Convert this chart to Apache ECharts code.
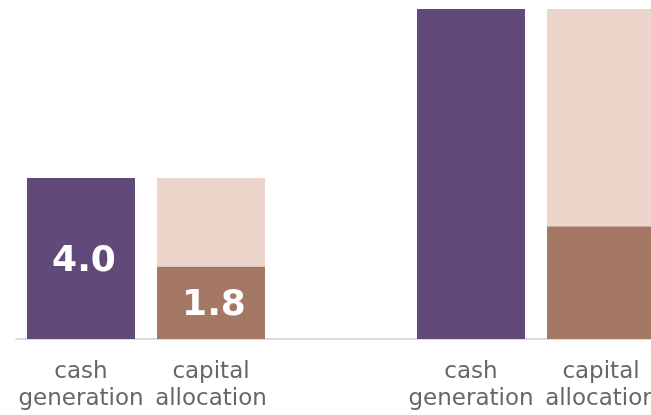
<!DOCTYPE html>
<html><head><meta charset="utf-8">
<script src="https://cdn.jsdelivr.net/npm/echarts@6/dist/echarts.min.js"></script>
<style>html,body{margin:0;padding:0;background:#fff;overflow:hidden;width:651px;height:415px}#c{width:690px;height:415px}</style>
</head><body><div id="c"></div>
<script>
const categories = ['cash\ngeneration', 'capital\nallocation', '', 'cash\ngeneration', 'capital\nallocation'];
const cashGeneration = [4.0, null, null, 8.2, null];
const allocated = [null, 1.8, null, null, 2.8];
const remainder = [null, 2.2, null, null, 5.4];
const labelled = [true, true, false, false, false];

const mk = (arr) => arr.map((v, i) => v == null ? '-' : {value: v, label: {show: labelled[i]}});
const labelStyle = {show: false, position: 'inside', offset: [3, 3], color: '#fff', fontFamily: 'DejaVu Sans', fontWeight: 'bold', fontSize: 36, formatter: p => p.value.toFixed(1)};

const chart = echarts.init(document.getElementById('c'), null, {renderer: 'canvas'});
chart.setOption({
  animation: false,
  grid: {left: 16, top: 9, width: 650, height: 330, containLabel: false},
  xAxis: {type: 'category', data: categories,
    axisLine: {lineStyle: {color: '#dcdcdc', width: 2}}, axisTick: {show: false},
    axisLabel: {color: '#666', fontFamily: 'DejaVu Sans', fontSize: 23, lineHeight: 27, margin: 20, interval: 0}},
  yAxis: {type: 'value', min: 0, max: 8.2, show: false, splitLine: {show: false}},
  series: [
    {type: 'bar', stack: 's', barWidth: 108, data: mk(cashGeneration), itemStyle: {color: '#614a7a'}, label: labelStyle},
    {type: 'bar', stack: 's', barWidth: 108, data: mk(allocated), itemStyle: {color: '#a47864'}, label: labelStyle},
    {type: 'bar', stack: 's', barWidth: 108, data: remainder.map(v => v == null ? '-' : v), itemStyle: {color: '#ecd6cc'}, label: {show: false}}
  ]
});
</script></body></html>
